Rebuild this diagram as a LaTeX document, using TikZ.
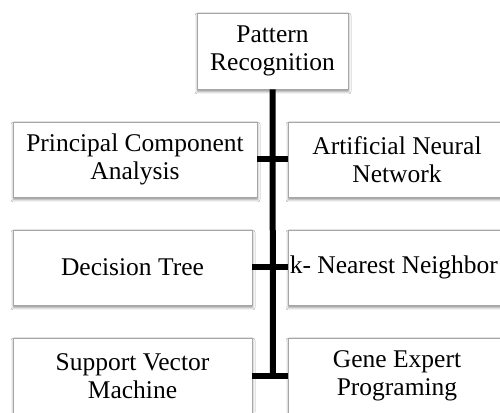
\documentclass[tikz,border=0pt]{standalone}
\usepackage{fontspec}
\setmainfont{Liberation Serif}
\usetikzlibrary{shadows.blur}
\begin{document}
\begin{tikzpicture}[x=1pt,y=1pt,
  box/.style={draw=gray!70, line width=0.8pt, fill=white, align=center,
    inner sep=0pt, font=\fontsize{25.5}{28}\selectfont,
    blur shadow={shadow xshift=0.5pt, shadow yshift=-2.5pt,
      shadow blur radius=2.5pt, shadow opacity=45}},
  leftbox/.style={box, minimum width=239pt, minimum height=75pt},
  rightbox/.style={box, minimum width=218pt, minimum height=75pt},
  link/.style={line width=6pt, black}]
\useasboundingbox (0,0) rectangle (500,412);
\clip (0,0) rectangle (500,412);
\fill[white] (0,0) rectangle (500,412);

% root
\node[box, minimum width=151pt, minimum height=76pt] (pr) at (272.5,361)
  {Pattern\\Recognition};

% first row
\node[box, minimum width=244pt, minimum height=75pt] (pca) at (135,252.5)
  {Principal Component\\Analysis};
\node[rightbox] (ann) at (397,252.5) {Artificial Neural\\Network};

% second row
\node[leftbox] (dt) at (132.5,144.5) {Decision Tree};
\node[rightbox] (knn) at (397,144.5) {};
\node[font=\fontsize{25.5}{28}\selectfont, anchor=west, inner sep=0pt]
  (knnlabel) at ([xshift=2pt]knn.west) {k- Nearest Neighbor};

% third row
\node[leftbox, minimum height=76pt] (svm) at (132.5,36) {Support Vector\\Machine};
\node[rightbox, minimum height=76pt] (gep) at (397,36) {Gene Expert\\Programing};

% trunk and branches
\coordinate (trunkend) at (273,36);
\draw[link] (pr.south) -- (trunkend);
\draw[link] (pca.east) -- (ann.west);
\draw[link] (dt.east) -- (knn.west);
\draw[link] (svm.east) -- (gep.west);
\end{tikzpicture}
\end{document}
